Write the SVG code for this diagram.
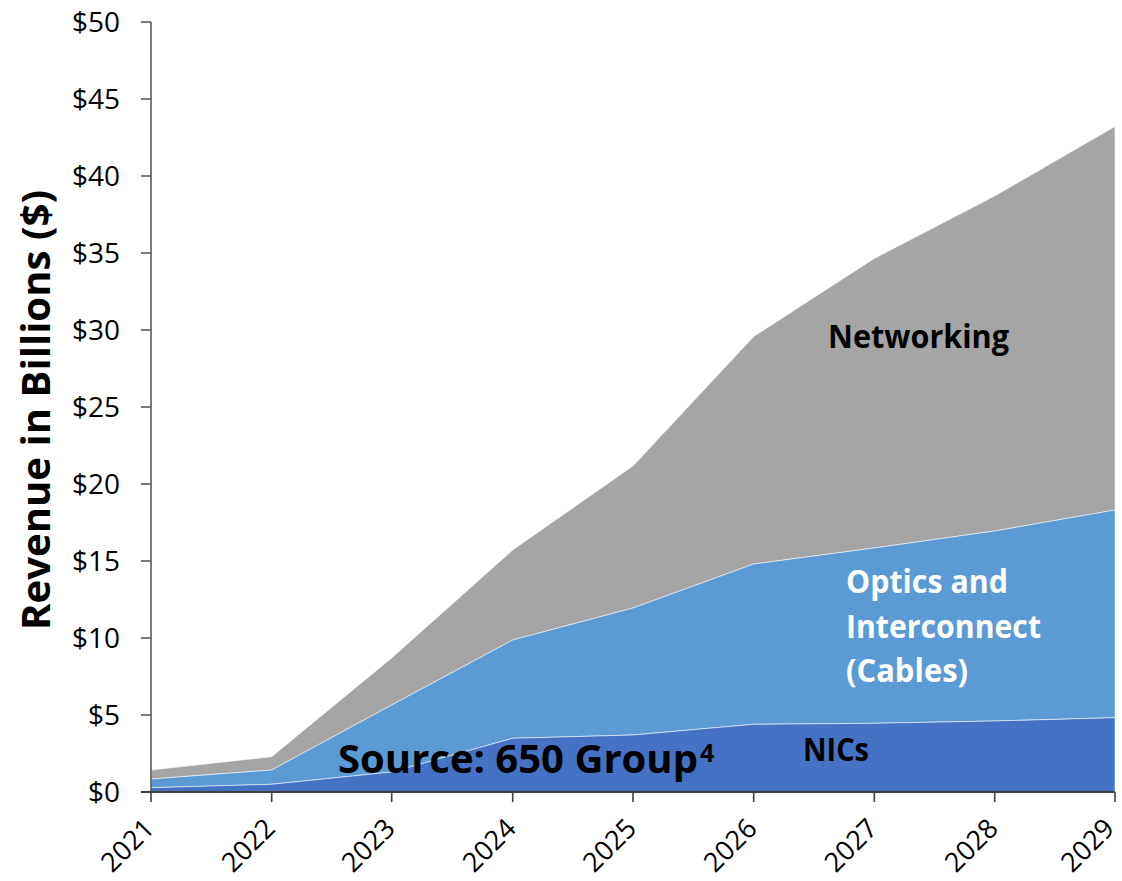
<svg xmlns="http://www.w3.org/2000/svg" width="1122" height="881" viewBox="0 0 1122 881">
<style>
.tick{font-family:"Open Sans","Liberation Sans",sans-serif;font-size:28px;fill:#000}
.xt{font-size:27px}
.lab{font-family:"Open Sans","Liberation Sans",sans-serif;font-weight:bold;fill:#000}
.area{stroke:#ffffff;stroke-opacity:0.55;stroke-width:1}
.ax{stroke:#595959;stroke-width:1.6;fill:none}
</style>
<rect width="1122" height="881" fill="#ffffff"/>
<g id="areas">
<polygon id="networking" class="area" fill="#A5A5A5" points="151,770 271.7,756.7 391.7,658 512.7,550 633,466 753.7,336.5 874.3,258.5 994.7,196 1115,126.5 1115,510 994.7,531 874.3,548 753.7,564 633,608 512.7,640 391.7,705 271.7,770 151,779"/>
<polygon id="optics" class="area" fill="#5B9BD5" points="151,779 271.7,770 391.7,705 512.7,640 633,608 753.7,564 874.3,548 994.7,531 1115,510 1115,717.7 994.7,721 874.3,723.3 753.7,724.3 633,735 512.7,738.3 391.7,772 271.7,784.3 151,787.7"/>
<polygon id="nics" class="area" fill="#4472C4" points="151,787.7 271.7,784.3 391.7,772 512.7,738.3 633,735 753.7,724.3 874.3,723.3 994.7,721 1115,717.7 1115,792 151,792"/>
</g>
<g id="axes">
<line class="ax" x1="151" y1="22" x2="151" y2="792"/>
<g class="ax">
<line x1="141" y1="22" x2="151" y2="22"/>
<line x1="141" y1="99" x2="151" y2="99"/>
<line x1="141" y1="176" x2="151" y2="176"/>
<line x1="141" y1="253" x2="151" y2="253"/>
<line x1="141" y1="330" x2="151" y2="330"/>
<line x1="141" y1="407" x2="151" y2="407"/>
<line x1="141" y1="484" x2="151" y2="484"/>
<line x1="141" y1="561" x2="151" y2="561"/>
<line x1="141" y1="638" x2="151" y2="638"/>
<line x1="141" y1="715" x2="151" y2="715"/>
<line x1="141" y1="792" x2="151" y2="792"/>
</g>
<line x1="141" y1="792" x2="1115" y2="792" stroke="#404040" stroke-width="2.2"/>
<g stroke="#404040" stroke-width="1.6">
<line x1="151" y1="792" x2="151" y2="802"/>
<line x1="271.7" y1="792" x2="271.7" y2="802"/>
<line x1="391.7" y1="792" x2="391.7" y2="802"/>
<line x1="512.7" y1="792" x2="512.7" y2="802"/>
<line x1="633" y1="792" x2="633" y2="802"/>
<line x1="753.7" y1="792" x2="753.7" y2="802"/>
<line x1="874.3" y1="792" x2="874.3" y2="802"/>
<line x1="994.7" y1="792" x2="994.7" y2="802"/>
<line x1="1115" y1="792" x2="1115" y2="802"/>
</g>
</g>
<g id="y-labels" class="tick" text-anchor="end">
<text x="120" y="32">$50</text>
<text x="120" y="109">$45</text>
<text x="120" y="186">$40</text>
<text x="120" y="263">$35</text>
<text x="120" y="340">$30</text>
<text x="120" y="417">$25</text>
<text x="120" y="494">$20</text>
<text x="120" y="571">$15</text>
<text x="120" y="648">$10</text>
<text x="120" y="725">$5</text>
<text x="120" y="802">$0</text>
</g>
<g id="x-labels" class="tick xt" text-anchor="end">
<text transform="translate(156,830) rotate(-45)">2021</text>
<text transform="translate(276.7,830) rotate(-45)">2022</text>
<text transform="translate(396.7,830) rotate(-45)">2023</text>
<text transform="translate(517.7,830) rotate(-45)">2024</text>
<text transform="translate(638,830) rotate(-45)">2025</text>
<text transform="translate(758.7,830) rotate(-45)">2026</text>
<text transform="translate(879.3,830) rotate(-45)">2027</text>
<text transform="translate(999.7,830) rotate(-45)">2028</text>
<text transform="translate(1116,830) rotate(-45)">2029</text>
</g>
<g id="y-title">
<text class="lab" font-size="39" transform="translate(50,630) rotate(-90)" textLength="440" lengthAdjust="spacingAndGlyphs">Revenue in Billions ($)</text>
</g>
<g id="series-labels">
<text class="lab" font-size="32" x="828" y="348" textLength="181" lengthAdjust="spacingAndGlyphs">Networking</text>
<text class="lab" font-size="32" x="846" y="593" style="fill:#ffffff" textLength="162" lengthAdjust="spacingAndGlyphs">Optics and</text>
<text class="lab" font-size="32" x="846" y="638" style="fill:#ffffff" textLength="195" lengthAdjust="spacingAndGlyphs">Interconnect</text>
<text class="lab" font-size="32" x="846" y="682" style="fill:#ffffff" textLength="122" lengthAdjust="spacingAndGlyphs">(Cables)</text>
<text class="lab" font-size="32" x="803" y="761" textLength="66" lengthAdjust="spacingAndGlyphs">NICs</text>
</g>
<g id="source">
<text class="lab" font-size="39" x="338" y="773"><tspan textLength="360" lengthAdjust="spacingAndGlyphs">Source: 650 Group</tspan><tspan x="700" y="762" font-size="25">4</tspan></text>
</g>
</svg>
